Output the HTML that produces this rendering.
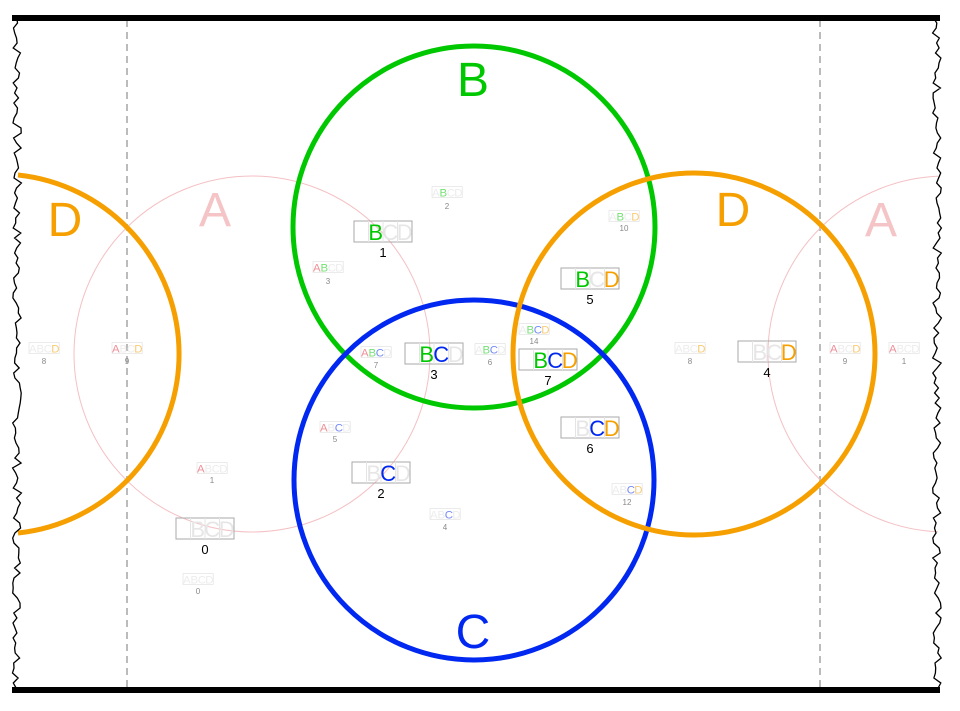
<!DOCTYPE html>
<html><head><meta charset="utf-8"><style>
html,body{margin:0;padding:0;background:#fff}
svg{display:block;font-family:"Liberation Sans",sans-serif}
</style></head><body>
<svg id="s" width="960" height="711" viewBox="0 0 960 711">
<rect width="960" height="711" fill="#fff"/>
<line x1="127" y1="20" x2="127" y2="688" stroke="#bbb" stroke-width="2" stroke-dasharray="7,5"/>
<line x1="820" y1="20" x2="820" y2="688" stroke="#bbb" stroke-width="2" stroke-dasharray="7,5"/>
<circle cx="252" cy="354" r="178" fill="none" stroke="#f4c0c4" stroke-width="1"/>
<circle cx="946" cy="354" r="178" fill="none" stroke="#f4c0c4" stroke-width="1"/>
<path d="M 18 175 A 180 180 0 0 1 18 533" fill="none" stroke="#f5a000" stroke-width="5"/>
<circle cx="474" cy="227" r="181" fill="none" stroke="#00c800" stroke-width="5"/>
<circle cx="474" cy="480" r="180" fill="none" stroke="#0028f0" stroke-width="5"/>
<circle cx="694" cy="354" r="181" fill="none" stroke="#f5a000" stroke-width="5"/>
<rect x="0" y="0" width="14" height="711" fill="#fff"/>
<rect x="938" y="0" width="22" height="711" fill="#fff"/>
<g id="jag" fill="none" stroke="#000" stroke-width="1.3"></g>
<line x1="12" y1="18" x2="940" y2="18" stroke="#000" stroke-width="6"/>
<line x1="12" y1="690" x2="940" y2="690" stroke="#000" stroke-width="6"/>
<g font-size="48" text-anchor="middle">
<text x="215" y="226" fill="#f4c4c6">A</text>
<text x="65" y="236" fill="#f5a000">D</text>
<text x="473" y="96" fill="#00c800">B</text>
<text x="473" y="648" fill="#0028f0">C</text>
<text x="733" y="226" fill="#f5a000">D</text>
<text x="881" y="236" fill="#f4c4c6">A</text>
</g>
<g font-size="22" text-anchor="middle">
<g transform="translate(354,221)"><rect width="58" height="21" fill="none" stroke="#aaa"/><path d="M14.5 0V21M29 0V21M43.5 0V21" stroke="#e4e4e4"/><text x="21.75" y="19" fill="#00c800">B</text><text x="36.25" y="19" fill="#e6e6e6">C</text><text x="50.75" y="19" fill="#e6e6e6">D</text></g>
<g transform="translate(405,343)"><rect width="58" height="21" fill="none" stroke="#aaa"/><path d="M14.5 0V21M29 0V21M43.5 0V21" stroke="#e4e4e4"/><text x="21.75" y="19" fill="#00c800">B</text><text x="36.25" y="19" fill="#0028f0">C</text><text x="50.75" y="19" fill="#e6e6e6">D</text></g>
<g transform="translate(519,349)"><rect width="58" height="21" fill="none" stroke="#aaa"/><path d="M14.5 0V21M29 0V21M43.5 0V21" stroke="#e4e4e4"/><text x="21.75" y="19" fill="#00c800">B</text><text x="36.25" y="19" fill="#0028f0">C</text><text x="50.75" y="19" fill="#f5a000">D</text></g>
<g transform="translate(561,268)"><rect width="58" height="21" fill="none" stroke="#aaa"/><path d="M14.5 0V21M29 0V21M43.5 0V21" stroke="#e4e4e4"/><text x="21.75" y="19" fill="#00c800">B</text><text x="36.25" y="19" fill="#e6e6e6">C</text><text x="50.75" y="19" fill="#f5a000">D</text></g>
<g transform="translate(561,417)"><rect width="58" height="21" fill="none" stroke="#aaa"/><path d="M14.5 0V21M29 0V21M43.5 0V21" stroke="#e4e4e4"/><text x="21.75" y="19" fill="#e6e6e6">B</text><text x="36.25" y="19" fill="#0028f0">C</text><text x="50.75" y="19" fill="#f5a000">D</text></g>
<g transform="translate(352,462)"><rect width="58" height="21" fill="none" stroke="#aaa"/><path d="M14.5 0V21M29 0V21M43.5 0V21" stroke="#e4e4e4"/><text x="21.75" y="19" fill="#e6e6e6">B</text><text x="36.25" y="19" fill="#0028f0">C</text><text x="50.75" y="19" fill="#e6e6e6">D</text></g>
<g transform="translate(738,341)"><rect width="58" height="21" fill="none" stroke="#aaa"/><path d="M14.5 0V21M29 0V21M43.5 0V21" stroke="#e4e4e4"/><text x="21.75" y="19" fill="#e6e6e6">B</text><text x="36.25" y="19" fill="#e6e6e6">C</text><text x="50.75" y="19" fill="#f5a000">D</text></g>
<g transform="translate(176,518)"><rect width="58" height="21" fill="none" stroke="#aaa"/><path d="M14.5 0V21M29 0V21M43.5 0V21" stroke="#e4e4e4"/><text x="21.75" y="19" fill="#e6e6e6">B</text><text x="36.25" y="19" fill="#e6e6e6">C</text><text x="50.75" y="19" fill="#e6e6e6">D</text></g>
</g>
<g font-size="13" text-anchor="middle" fill="#000">
<text x="383" y="257">1</text><text x="434" y="379">3</text><text x="548" y="385">7</text><text x="590" y="304">5</text><text x="590" y="453">6</text><text x="381" y="498">2</text><text x="767" y="377">4</text><text x="205" y="554">0</text>
</g>
<g font-size="22" text-anchor="middle" opacity="0.55">
<g transform="translate(432,186.5) scale(0.52)"><rect width="58" height="21" fill="none" stroke="#bbb"/><text x="7.25" y="19" fill="#ddd">A</text><text x="21.75" y="19" fill="#00c800">B</text><text x="36.25" y="19" fill="#ddd">C</text><text x="50.75" y="19" fill="#ddd">D</text></g>
<g transform="translate(313,261.5) scale(0.52)"><rect width="58" height="21" fill="none" stroke="#bbb"/><text x="7.25" y="19" fill="#e03040">A</text><text x="21.75" y="19" fill="#00c800">B</text><text x="36.25" y="19" fill="#ddd">C</text><text x="50.75" y="19" fill="#ddd">D</text></g>
<g transform="translate(361,346.5) scale(0.52)"><rect width="58" height="21" fill="none" stroke="#bbb"/><text x="7.25" y="19" fill="#e03040">A</text><text x="21.75" y="19" fill="#00c800">B</text><text x="36.25" y="19" fill="#0028f0">C</text><text x="50.75" y="19" fill="#ddd">D</text></g>
<g transform="translate(475,343.5) scale(0.52)"><rect width="58" height="21" fill="none" stroke="#bbb"/><text x="7.25" y="19" fill="#ddd">A</text><text x="21.75" y="19" fill="#00c800">B</text><text x="36.25" y="19" fill="#0028f0">C</text><text x="50.75" y="19" fill="#ddd">D</text></g>
<g transform="translate(519,323.5) scale(0.52)"><rect width="58" height="21" fill="none" stroke="#bbb"/><text x="7.25" y="19" fill="#ddd">A</text><text x="21.75" y="19" fill="#00c800">B</text><text x="36.25" y="19" fill="#0028f0">C</text><text x="50.75" y="19" fill="#f5a000">D</text></g>
<g transform="translate(609,210.5) scale(0.52)"><rect width="58" height="21" fill="none" stroke="#bbb"/><text x="7.25" y="19" fill="#ddd">A</text><text x="21.75" y="19" fill="#00c800">B</text><text x="36.25" y="19" fill="#ddd">C</text><text x="50.75" y="19" fill="#f5a000">D</text></g>
<g transform="translate(320,421.5) scale(0.52)"><rect width="58" height="21" fill="none" stroke="#bbb"/><text x="7.25" y="19" fill="#e03040">A</text><text x="21.75" y="19" fill="#ddd">B</text><text x="36.25" y="19" fill="#0028f0">C</text><text x="50.75" y="19" fill="#ddd">D</text></g>
<g transform="translate(197,462.5) scale(0.52)"><rect width="58" height="21" fill="none" stroke="#bbb"/><text x="7.25" y="19" fill="#e03040">A</text><text x="21.75" y="19" fill="#ddd">B</text><text x="36.25" y="19" fill="#ddd">C</text><text x="50.75" y="19" fill="#ddd">D</text></g>
<g transform="translate(430,508.5) scale(0.52)"><rect width="58" height="21" fill="none" stroke="#bbb"/><text x="7.25" y="19" fill="#ddd">A</text><text x="21.75" y="19" fill="#ddd">B</text><text x="36.25" y="19" fill="#0028f0">C</text><text x="50.75" y="19" fill="#ddd">D</text></g>
<g transform="translate(612,483.5) scale(0.52)"><rect width="58" height="21" fill="none" stroke="#bbb"/><text x="7.25" y="19" fill="#ddd">A</text><text x="21.75" y="19" fill="#ddd">B</text><text x="36.25" y="19" fill="#0028f0">C</text><text x="50.75" y="19" fill="#f5a000">D</text></g>
<g transform="translate(183,573.5) scale(0.52)"><rect width="58" height="21" fill="none" stroke="#bbb"/><text x="7.25" y="19" fill="#ddd">A</text><text x="21.75" y="19" fill="#ddd">B</text><text x="36.25" y="19" fill="#ddd">C</text><text x="50.75" y="19" fill="#ddd">D</text></g>
<g transform="translate(29,342.5) scale(0.52)"><rect width="58" height="21" fill="none" stroke="#bbb"/><text x="7.25" y="19" fill="#ddd">A</text><text x="21.75" y="19" fill="#ddd">B</text><text x="36.25" y="19" fill="#ddd">C</text><text x="50.75" y="19" fill="#f5a000">D</text></g>
<g transform="translate(112,342.5) scale(0.52)"><rect width="58" height="21" fill="none" stroke="#bbb"/><text x="7.25" y="19" fill="#e03040">A</text><text x="21.75" y="19" fill="#ddd">B</text><text x="36.25" y="19" fill="#ddd">C</text><text x="50.75" y="19" fill="#f5a000">D</text></g>
<g transform="translate(675,342.5) scale(0.52)"><rect width="58" height="21" fill="none" stroke="#bbb"/><text x="7.25" y="19" fill="#ddd">A</text><text x="21.75" y="19" fill="#ddd">B</text><text x="36.25" y="19" fill="#ddd">C</text><text x="50.75" y="19" fill="#f5a000">D</text></g>
<g transform="translate(830,342.5) scale(0.52)"><rect width="58" height="21" fill="none" stroke="#bbb"/><text x="7.25" y="19" fill="#e03040">A</text><text x="21.75" y="19" fill="#ddd">B</text><text x="36.25" y="19" fill="#ddd">C</text><text x="50.75" y="19" fill="#f5a000">D</text></g>
<g transform="translate(889,342.5) scale(0.52)"><rect width="58" height="21" fill="none" stroke="#bbb"/><text x="7.25" y="19" fill="#e03040">A</text><text x="21.75" y="19" fill="#ddd">B</text><text x="36.25" y="19" fill="#ddd">C</text><text x="50.75" y="19" fill="#ddd">D</text></g>
</g>
<g font-size="8" text-anchor="middle" fill="#888">
<text x="447" y="209">2</text><text x="328" y="284">3</text><text x="376" y="368">7</text><text x="490" y="365">6</text><text x="534" y="344">14</text><text x="624" y="231">10</text><text x="335" y="442">5</text><text x="212" y="483">1</text><text x="445" y="530">4</text><text x="627" y="505">12</text><text x="198" y="594">0</text><text x="44" y="364">8</text><text x="127" y="364">9</text><text x="690" y="364">8</text><text x="845" y="364">9</text><text x="904" y="364">1</text>
</g>
</svg>
<script>
(function(){
 var g=document.getElementById('jag');var seed=7;
 function r(){seed=(seed*9301+49297)%233280;return seed/233280;}
 function mk(x0){var p=[];for(var y=18;y<=692;y+=5){p.push((x0+(r()-0.5)*9).toFixed(1)+','+y);}
  var e=document.createElementNS('http://www.w3.org/2000/svg','polyline');e.setAttribute('points',p.join(' '));g.appendChild(e);}
 mk(17);mk(937);
})();
</script>
</body></html>
